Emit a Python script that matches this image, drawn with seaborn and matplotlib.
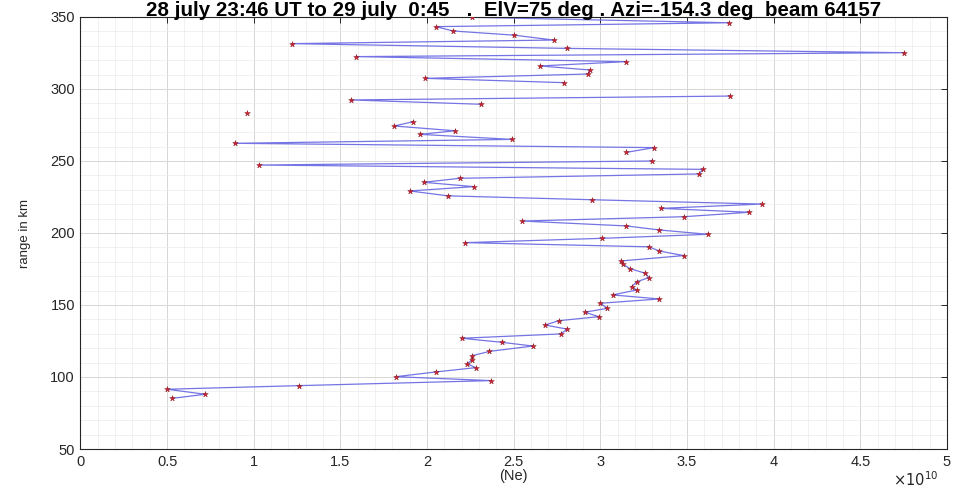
import numpy as np
import pandas as pd
import seaborn as sns
import matplotlib.pyplot as plt
from matplotlib.ticker import MultipleLocator, FormatStrFormatter

# Electron density profile along the beam (Ne in units of 1e10), NaN = no data
range_km = [
    349.8, 346.0, 343.3, 340.3, 337.4, 334.0, 331.5, 328.2, 325.2, 322.5,
    319.0, 316.0, 313.2, 310.4, 307.4, 304.4, 301.4, 298.4, 295.1, 292.4,
    289.4, 286.4, 283.1, 280.2, 277.3, 274.3, 271.0, 268.5, 265.0, 262.3,
    259.3, 256.0, 253.1, 250.0, 247.2, 244.2, 241.0, 238.0, 235.2, 232.2,
    229.2, 225.8, 223.1, 220.1, 217.1, 214.4, 211.3, 208.3, 204.9, 202.1,
    199.1, 196.3, 193.3, 190.4, 187.5, 184.3, 180.6, 178.3, 175.3, 172.0,
    169.0, 166.2, 162.7, 160.4, 157.0, 154.2, 151.2, 147.7, 145.0, 141.9,
    139.1, 136.1, 133.2, 129.9, 126.9, 124.1, 121.5, 117.8, 114.8, 111.8,
    109.3, 106.5, 103.5, 100.2, 97.5, 94.0, 91.5, 88.0, 85.2,
]
ne_e10 = [
    2.26, 3.74, 2.05, 2.15, 2.50, 2.73, 1.22, 2.81, 4.75, 1.59,
    3.15, 2.65, 2.94, 2.93, 1.99, 2.79, np.nan, np.nan, 3.75, 1.56,
    2.31, np.nan, 0.96, np.nan, 1.92, 1.81, 2.16, 1.96, 2.49, 0.89,
    3.31, 3.15, np.nan, 3.30, 1.03, 3.59, 3.57, 2.19, 1.98, 2.27,
    1.90, 2.12, 2.95, 3.93, 3.35, 3.86, 3.48, 2.55, 3.15, 3.34,
    3.62, 3.01, 2.22, 3.28, 3.34, 3.48, 3.12, 3.13, 3.17, 3.26,
    3.28, 3.21, 3.18, 3.21, 3.07, 3.34, 3.00, 3.04, 2.91, 2.99,
    2.76, 2.68, 2.81, 2.77, 2.20, 2.43, 2.61, 2.36, 2.26, 2.26,
    2.23, 2.28, 2.05, 1.82, 2.37, 1.26, 0.50, 0.72, 0.53,
]

title = "28 july 23:46 UT to 29 july  0:45   .  ElV=75 deg . Azi=-154.3 deg  beam 64157"
x_ticks = [0, 0.5, 1, 1.5, 2, 2.5, 3, 3.5, 4, 4.5, 5]
y_ticks = [50, 100, 150, 200, 250, 300, 350]

sns.set_theme(style="whitegrid")
plt.rcParams['font.family'] = ['Liberation Sans', 'DejaVu Sans']
ink = '#262626'

df = pd.DataFrame({'range': range_km, 'ne': ne_e10})
df['segment'] = df['ne'].isna().cumsum()
df = df.dropna()

fig = plt.figure(figsize=(9.54, 4.90), dpi=100)
fig.patch.set_facecolor('white')
ax = fig.add_axes([80.5 / 954, 1 - 449 / 490, (947 - 80.5) / 954, (449 - 17) / 490])

sns.lineplot(data=df, x='ne', y='range', units='segment', estimator=None,
             sort=False, color='#7474e4', lw=0.9, ax=ax, legend=False)
sns.scatterplot(data=df, x='ne', y='range', marker='*', s=18,
                color='#d42030', edgecolor='#801018', linewidth=0.3,
                ax=ax, legend=False, zorder=3)

ax.set_xlim(0, 5)
ax.set_ylim(50, 350)
ax.set_xticks(x_ticks)
ax.set_yticks(y_ticks)
ax.xaxis.set_major_formatter(FormatStrFormatter('%g'))
ax.yaxis.set_major_formatter(FormatStrFormatter('%g'))
ax.xaxis.set_minor_locator(MultipleLocator(0.1))
ax.yaxis.set_minor_locator(MultipleLocator(10))

ax.grid(which='major', color='#d6d6d6', lw=0.7)
ax.grid(which='minor', color='#ececec', lw=0.5)
ax.set_axisbelow(True)

for s in ax.spines.values():
    s.set_visible(True)
    s.set_color(ink)
    s.set_linewidth(0.8)

ax.tick_params(which='major', direction='in', top=True, right=True,
               length=4, width=0.7, color=ink, labelsize=10.5,
               labelcolor=ink, pad=4)
ax.tick_params(which='minor', length=0)

ax.set_title(title, fontsize=14.8, fontweight='bold', color='black', pad=1)
ax.set_xlabel('(Ne)', fontsize=10.5, color=ink, labelpad=0)
ax.set_ylabel('range in km', fontsize=9.5, color=ink, labelpad=14)
fig.text(0.936, 0.008, r'$\times10^{10}$', fontsize=10.5, color=ink)

fig.savefig('out.png', dpi=100)
